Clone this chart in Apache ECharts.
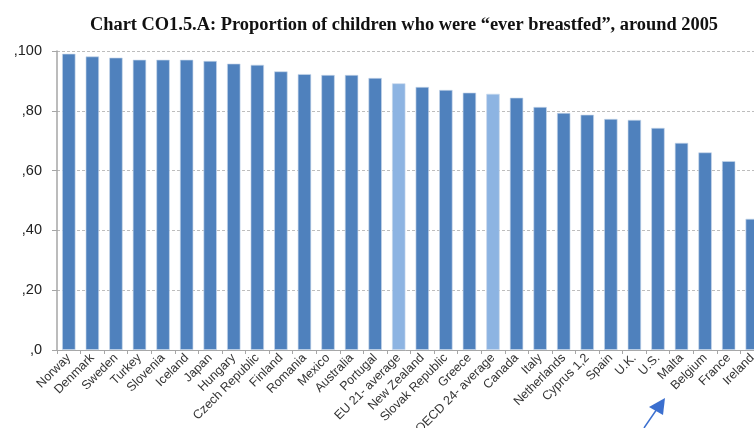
<!DOCTYPE html>
<html>
<head>
<meta charset="utf-8">
<script src="https://cdn.jsdelivr.net/npm/echarts@6/dist/echarts.min.js"></script>
<style>
html,body{margin:0;padding:0;background:#fff;}
#chart{width:754px;height:428px;}
</style>
</head>
<body>
<div id="chart"></div>
<script>
const titleText = 'Chart CO1.5.A: Proportion of children who were \u201cever breastfed\u201d, around 2005';
const categories = ['Norway','Denmark','Sweden','Turkey','Slovenia','Iceland','Japan','Hungary','Czech Republic','Finland','Romania','Mexico','Australia','Portugal','EU 21- average','New Zealand','Slovak Republic','Greece','OECD 24- average','Canada','Italy','Netherlands','Cyprus 1,2','Spain','U.K.','U.S.','Malta','Belgium','France','Ireland'];
const values = [99.1,98.2,97.8,97.1,97.1,97.1,96.7,95.8,95.4,93.2,92.3,92.0,92.0,91.0,89.2,88.0,87.0,86.1,85.7,84.4,81.3,79.3,78.7,77.3,77.0,74.3,69.3,66.1,63.2,43.9];
const averageCategories = ['EU 21- average','OECD 24- average'];
const yTickValues = [0,20,40,60,80,100];
const yTickLabels = [',0',',20',',40',',60',',80',',100'];

const dark = '#4F81BD', light = '#8DB4E2';
const chart = echarts.init(document.getElementById('chart'));
chart.setOption({
  animation:false,
  title:{text:titleText,left:399,textAlign:'center',top:11,
    textStyle:{fontFamily:'Liberation Serif',fontWeight:'bold',fontSize:18.4,color:'#111'}},
  grid:{left:57,right:-10,top:51,bottom:78,containLabel:false,outerBoundsMode:'none'},
  xAxis:{type:'category',data:categories,
    axisLine:{lineStyle:{color:'#a6a6a6',width:1}},
    axisTick:{show:true,length:4,lineStyle:{color:'#a6a6a6'}},
    axisLabel:{rotate:45,interval:0,margin:6,fontFamily:'Liberation Sans',fontSize:12.5,color:'#333'}},
  yAxis:{type:'value',min:0,max:100,interval:20,
    axisLine:{show:true,lineStyle:{color:'#a6a6a6',width:1.5}},
    axisTick:{show:true,length:5,lineStyle:{color:'#a6a6a6'}},
    splitLine:{show:true,lineStyle:{type:[3,2],color:'#bdbdbd',width:1}},
    axisLabel:{margin:15,fontFamily:'Liberation Sans',fontSize:14.5,color:'#222',
      formatter:v=>yTickLabels[yTickValues.indexOf(v)]}},
  series:[{type:'bar',barWidth:13.5,
    data:values.map((v,i)=>({value:v,itemStyle:{color:averageCategories.includes(categories[i])?light:dark}})),
    itemStyle:{borderColor:'rgba(200,215,235,0.8)',borderWidth:0.8}}],
  graphic:[
    {type:'line',shape:{x1:644,y1:428,x2:657,y2:409},style:{stroke:'#3b6fcf',lineWidth:1.5}},
    {type:'polygon',shape:{points:[[665,398],[649,407],[663,415]]},style:{fill:'#3b6fcf'}}
  ]
});
</script>
</body>
</html>
